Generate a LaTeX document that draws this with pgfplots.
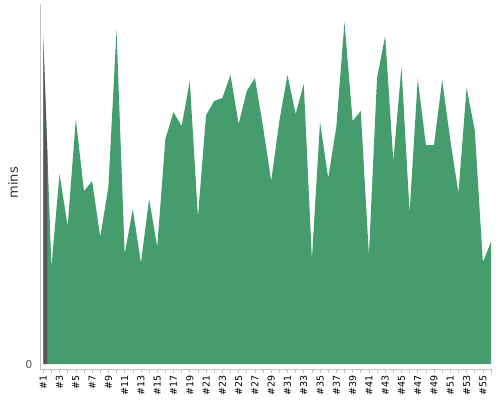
\documentclass[border=0pt]{standalone}
\usepackage{fontspec}
\setmainfont{DejaVu Sans}
\usepackage{pgfplots}
\pgfplotsset{compat=1.18}
\usepgfplotslibrary{fillbetween}

\definecolor{areagreen}{RGB}{69,157,109}
\definecolor{bargray}{RGB}{88,88,88}
\definecolor{axisgray}{RGB}{192,192,192}
\definecolor{labelgray}{RGB}{51,51,51}

\begin{document}
\begin{tikzpicture}
\path (0,0) rectangle (500pt,400pt);
\begin{axis}[
    anchor=south west, at={(40pt,31pt)},
    scale only axis, width=451pt, height=365pt,
    xmin=0.6, xmax=56, ymin=-5, ymax=360,
    axis x line*=bottom, axis y line*=left,
    axis line style={axisgray, line width=0.8pt},
    xtick={1,3,...,55}, minor xtick={2,4,...,56},
    tick align=outside, major tick length=4pt, minor tick length=4pt,
    tick style={axisgray, line width=0.6pt},
    ytick={0}, ytick style={draw=none},
    /pgf/number format/assume math mode=true,
    xticklabel={\#\pgfmathprintnumber{\tick}},
    xticklabel style={rotate=90, anchor=east, font=\fontsize{9.5}{11}\selectfont, text=black, inner sep=2pt},
    yticklabel style={font=\fontsize{11}{13}\selectfont, text=labelgray!80},
    ylabel={mins},
    ylabel style={at={(axis description cs:-0.0599,0.51)}, anchor=center, font=\fontsize{13}{15}\selectfont, text=labelgray},
]
\addplot[draw=none, name path=top] table {
x y
1 327
2 97
3 190
4 138
5 245
6 173
7 183
8 127
9 177
10 334
11 110
12 155
13 101
14 165
15 117
16 225
17 252
18 238
19 283
20 147
21 249
22 263
23 266
24 289
25 240
26 273
27 286
28 237
29 183
30 243
31 289
32 250
33 280
34 105
35 242
36 186
37 237
38 342
39 243
40 253
41 109
42 286
43 328
44 203
45 297
46 151
47 285
48 219
49 219
50 284
51 224
52 171
53 276
54 234
55 102
56 122
};
\addplot[draw=none, name path=base] coordinates {(1,0) (56,0)};
\addplot[areagreen] fill between[of=top and base];
\addplot[bargray] fill between[of=top and base, soft clip={domain=1:1.5}];
\end{axis}
\end{tikzpicture}
\end{document}
